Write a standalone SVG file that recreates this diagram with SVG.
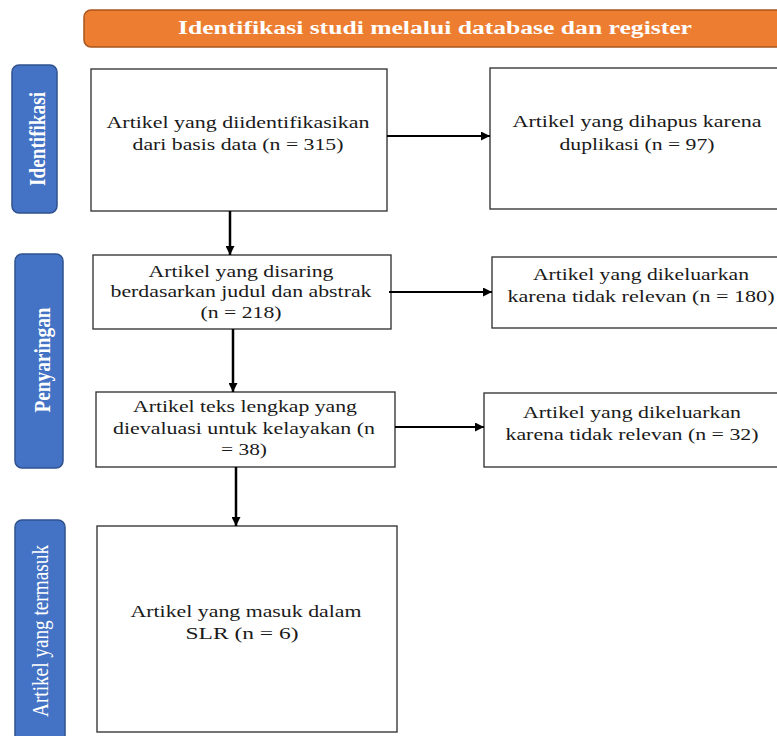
<svg xmlns="http://www.w3.org/2000/svg" width="777" height="736" viewBox="0 0 777 736">
<style>
.bg{fill:#ffffff}
.box{fill:#ffffff;stroke:#3a3a3a;stroke-width:1.4}
.phase{fill:#4472C4;stroke:#2F528F;stroke-width:1.5}
.hdr{fill:#ED7D31;stroke:#A9561E;stroke-width:1.5}
.t{font-family:"Liberation Serif","Times New Roman",serif;font-size:17.5px;fill:#1a1a1a;text-anchor:middle}
.pt{font-family:"Liberation Serif","Times New Roman",serif;font-size:24px;fill:#ffffff;text-anchor:middle}
.ht{font-family:"Liberation Serif","Times New Roman",serif;font-size:18px;font-weight:bold;fill:#ffffff;text-anchor:middle}
.c{stroke:#000;fill:none}
</style>
<defs>
<marker id="ah" viewBox="0 0 10 10" refX="10" refY="5" markerWidth="5" markerHeight="5" orient="auto" markerUnits="userSpaceOnUse">
<path d="M0,0 L10,5 L0,10 z" fill="#000"/>
</marker>
<marker id="ah2" viewBox="0 0 10 10" refX="10" refY="5" markerWidth="9" markerHeight="9" orient="auto" markerUnits="userSpaceOnUse">
<path d="M0,0 L10,5 L0,10 z" fill="#000"/>
</marker>
</defs>
<rect class="bg" x="0" y="0" width="777" height="736"/>

<g id="header">
<rect class="hdr" x="84" y="10" width="705" height="37" rx="7"/>
<text class="ht" x="435" y="34" textLength="514" lengthAdjust="spacingAndGlyphs">Identifikasi studi melalui database dan register</text>
</g>

<g id="phase-identifikasi">
<rect class="phase" x="12" y="65" width="45" height="148" rx="7"/>
<text class="pt" font-weight="bold" transform="translate(45,139) rotate(-90)" x="0" y="0" textLength="94" lengthAdjust="spacingAndGlyphs">Identifikasi</text>
</g>
<g id="phase-penyaringan">
<rect class="phase" x="15" y="254" width="48" height="214" rx="7"/>
<text class="pt" font-weight="bold" transform="translate(50,360) rotate(-90)" x="0" y="0" textLength="105" lengthAdjust="spacingAndGlyphs">Penyaringan</text>
</g>
<g id="phase-termasuk">
<rect class="phase" x="15" y="520" width="50" height="230" rx="7"/>
<text class="pt" transform="translate(48,631) rotate(-90)" x="0" y="0" textLength="172" lengthAdjust="spacingAndGlyphs">Artikel yang termasuk</text>
</g>

<g id="n1">
<rect class="box" x="91" y="69" width="296" height="142"/>
<text class="t" x="238" y="128" textLength="263" lengthAdjust="spacingAndGlyphs">Artikel yang diidentifikasikan</text>
<text class="t" x="238" y="150" textLength="211" lengthAdjust="spacingAndGlyphs">dari basis data (n = 315)</text>
</g>
<g id="n2">
<rect class="box" x="490" y="68" width="295" height="141"/>
<text class="t" x="637" y="127" textLength="249" lengthAdjust="spacingAndGlyphs">Artikel yang dihapus karena</text>
<text class="t" x="637" y="150" textLength="155" lengthAdjust="spacingAndGlyphs">duplikasi (n = 97)</text>
</g>
<g id="n3">
<rect class="box" x="93" y="255" width="298" height="74"/>
<text class="t" x="241" y="277" textLength="185" lengthAdjust="spacingAndGlyphs">Artikel yang disaring</text>
<text class="t" x="241" y="297" textLength="261" lengthAdjust="spacingAndGlyphs">berdasarkan judul dan abstrak</text>
<text class="t" x="241" y="318" textLength="81" lengthAdjust="spacingAndGlyphs">(n = 218)</text>
</g>
<g id="n4">
<rect class="box" x="492" y="257" width="295" height="71"/>
<text class="t" x="641" y="280" textLength="216" lengthAdjust="spacingAndGlyphs">Artikel yang dikeluarkan</text>
<text class="t" x="641" y="302" textLength="267" lengthAdjust="spacingAndGlyphs">karena tidak relevan (n = 180)</text>
</g>
<g id="n5">
<rect class="box" x="96" y="392" width="299" height="75"/>
<text class="t" x="245" y="412" textLength="224" lengthAdjust="spacingAndGlyphs">Artikel teks lengkap yang</text>
<text class="t" x="244" y="434" textLength="262" lengthAdjust="spacingAndGlyphs">dievaluasi untuk kelayakan (n</text>
<text class="t" x="244" y="455" textLength="46" lengthAdjust="spacingAndGlyphs">= 38)</text>
</g>
<g id="n6">
<rect class="box" x="484" y="393" width="303" height="74"/>
<text class="t" x="632" y="418" textLength="218" lengthAdjust="spacingAndGlyphs">Artikel yang dikeluarkan</text>
<text class="t" x="632" y="440" textLength="253" lengthAdjust="spacingAndGlyphs">karena tidak relevan (n = 32)</text>
</g>
<g id="n7">
<rect class="box" x="97" y="526" width="300" height="206"/>
<text class="t" x="246" y="617" textLength="231" lengthAdjust="spacingAndGlyphs">Artikel yang masuk dalam</text>
<text class="t" x="242" y="639" textLength="113" lengthAdjust="spacingAndGlyphs">SLR (n = 6)</text>
</g>

<g id="connectors">
<line class="c" stroke-width="2" x1="387" y1="136" x2="490" y2="136" marker-end="url(#ah2)"/>
<line class="c" stroke-width="2.5" x1="230" y1="211" x2="230" y2="255" marker-end="url(#ah2)"/>
<line class="c" stroke-width="2" x1="389" y1="292" x2="492" y2="292" marker-end="url(#ah2)"/>
<line class="c" stroke-width="2.5" x1="233" y1="329" x2="233" y2="392" marker-end="url(#ah2)"/>
<line class="c" stroke-width="2" x1="395" y1="427" x2="484" y2="427" marker-end="url(#ah2)"/>
<line class="c" stroke-width="2.5" x1="236" y1="467" x2="236" y2="526" marker-end="url(#ah2)"/>
</g>
</svg>
